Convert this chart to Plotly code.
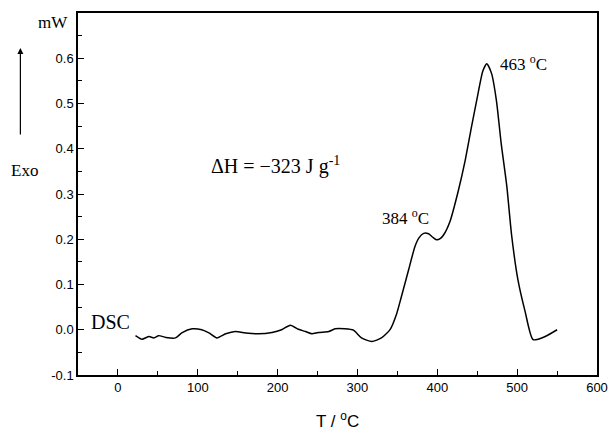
import plotly.graph_objects as go

temperature = [22, 30, 39, 45, 51, 60, 72, 80, 93, 105, 114, 124, 135, 147, 160, 176, 193,
               205, 216, 226, 235, 243, 251, 264, 272, 284, 295, 305, 318, 330, 341, 349,
               355, 364, 372, 377, 383, 389, 394, 399, 404, 408, 416, 426, 435, 443, 451,
               457, 462, 468, 474, 480, 487, 493, 501, 510, 520, 535, 550]
heat_flow = [-0.013, -0.021, -0.015, -0.018, -0.013, -0.017, -0.018, -0.007, 0.002, 0.000,
             -0.007, -0.018, -0.009, -0.004, -0.007, -0.009, -0.006, 0.000, 0.010, 0.001,
             -0.004, -0.009, -0.006, -0.004, 0.002, 0.002, -0.001, -0.018, -0.026, -0.018,
             0.001, 0.035, 0.073, 0.132, 0.184, 0.203, 0.213, 0.212, 0.205, 0.199, 0.202,
             0.210, 0.240, 0.305, 0.375, 0.450, 0.522, 0.572, 0.588, 0.566, 0.507, 0.412,
             0.318, 0.210, 0.110, 0.040, -0.022, -0.015, 0.000]

x_ticks = [0, 100, 200, 300, 400, 500, 600]
y_ticks = [-0.1, 0.0, 0.1, 0.2, 0.3, 0.4, 0.5, 0.6]
y_tick_labels = ["-0.1", "0.0", "0.1", "0.2", "0.3", "0.4", "0.5", "0.6"]

serif = "Liberation Serif"
sans = "Liberation Sans"

fig = go.Figure()
fig.add_trace(go.Scatter(x=temperature, y=heat_flow, mode="lines",
                         line=dict(color="black", width=1.5, shape="spline", smoothing=0.6),
                         showlegend=False, hoverinfo="skip"))

axis_common = dict(showline=True, linecolor="black", linewidth=1.5, mirror=True,
                   ticks="inside", ticklen=6, tickwidth=1.2, tickcolor="black",
                   showgrid=False, zeroline=False, automargin=False,
                   tickfont=dict(family=sans, size=13, color="black"))

fig.update_xaxes(range=[-50, 600], tickvals=x_ticks,
                 minor=dict(ticks="inside", ticklen=4, tickcolor="black", dtick=50, tick0=0),
                 **axis_common)
fig.update_yaxes(range=[-0.1, 0.7], tickvals=y_ticks, ticktext=y_tick_labels,
                 minor=dict(ticks="inside", ticklen=4, tickcolor="black", dtick=0.05, tick0=0),
                 **axis_common)

ann_font = dict(family=serif, size=17, color="black")
annotations = [
    dict(x=0.5, y=-0.124, xref="paper", yref="paper", text="T / <sup>o</sup>C",
         showarrow=False, xanchor="center", yanchor="middle",
         font=dict(family=sans, size=17, color="black")),
    dict(x=-0.049, y=0.975, xref="paper", yref="paper", text="mW", showarrow=False,
         xanchor="center", yanchor="middle", font=ann_font),
    dict(x=-0.104, y=0.566, xref="paper", yref="paper", text="Exo", showarrow=False,
         xanchor="center", yanchor="middle", font=ann_font),
    dict(x=-0.111, y=0.903, xref="paper", yref="paper", text="", showarrow=True,
         ax=0, ay=88, arrowhead=2, arrowsize=1, arrowwidth=1.2, arrowcolor="black"),
    dict(x=-9, y=0.018, text="DSC", showarrow=False, xanchor="center", yanchor="middle",
         font=dict(family=serif, size=20, color="black")),
    dict(x=197.5, y=0.364, text="ΔH = −323 J g<sup>-1</sup>", showarrow=False,
         xanchor="center", yanchor="middle", font=dict(family=serif, size=20, color="black")),
    dict(x=360, y=0.249, text="384 <sup>o</sup>C", showarrow=False,
         xanchor="center", yanchor="middle", font=ann_font),
    dict(x=507.5, y=0.589, text="463 <sup>o</sup>C", showarrow=False,
         xanchor="center", yanchor="middle", font=ann_font),
]
fig.update_layout(width=608, height=432, margin=dict(l=78, r=11, t=13, b=57),
                  paper_bgcolor="white", plot_bgcolor="white", annotations=annotations)

fig.write_html("out.html", config={"displayModeBar": False},
               post_script="document.body.style.margin='0';document.body.style.overflow='hidden';")
